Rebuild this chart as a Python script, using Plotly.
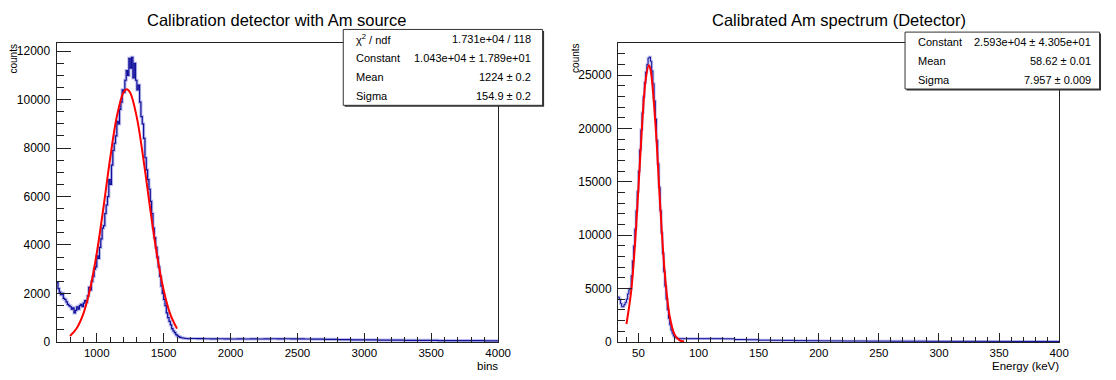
import numpy as np
import plotly.graph_objects as go

W, H = 1116, 380

# ---------------- data: left panel (raw channels) ----------------
left_title = "Calibration detector with Am source"
left_xlabel = "bins"
left_ylabel = "counts"
# bins 700..1700, width 10
left_fine_start, left_fine_width = 700, 10
left_fine_counts = [
    2450, 2200, 2050, 1950, 2000, 1800, 1750, 1650, 1550, 1500,
    1450, 1350, 1400, 1200, 1300, 1450, 1350, 1500, 1550, 1450,
    1600, 1700, 1650, 1900, 2250, 2150, 2500, 2700, 3000, 3100,
    3550, 3450, 3900, 4250, 4700, 4800, 5300, 5650, 6000, 6700,
    6500, 7300, 7900, 8200, 8500, 9100, 9000, 9600, 9900, 10400,
    10300, 10800, 11200, 11000, 11700, 11300, 11750, 10900, 11500, 10800,
    10400, 10600, 9900, 9300, 9000, 8400, 7600, 7100, 6700, 6300,
    5800, 5300, 4700, 4300, 3900, 3500, 3100, 2700, 2300, 2000,
    1750, 1500, 1200, 1000, 850, 700, 550, 450, 380, 300,
    250, 220, 190, 170, 160, 150, 140, 140, 130, 130,
]
# bins 1700..4000, width 50
left_tail_start, left_tail_width = 1700, 50
left_tail_counts = [
    140, 135, 130, 125, 130, 125, 120, 125, 120, 125,
    120, 125, 130, 125, 130, 125, 125, 120, 115, 110,
    105, 100, 95, 90, 85, 85, 80, 80, 75, 75,
    70, 70, 65, 65, 60, 60, 60, 55, 55, 55,
    50, 50, 50, 50, 45, 45,
]
left_fit_x = [800, 850, 900, 950, 1000, 1050, 1100, 1150, 1200, 1224, 1250,
              1300, 1350, 1400, 1450, 1500, 1550, 1600]
left_fit_y = [246, 566, 1169, 2181, 3665, 5550, 7571, 9306, 10306, 10430, 10284,
              9247, 7493, 5469, 3597, 2133, 1139, 548]
left_stats_labels = ["χ<sup>2</sup> / ndf", "Constant", "Mean", "Sigma"]
left_stats_values = ["1.731e+04 / 118", "1.043e+04 ± 1.789e+01", "1224 ± 0.2", "154.9 ± 0.2"]

# ---------------- data: right panel (calibrated) ----------------
right_title = "Calibrated Am spectrum (Detector)"
right_xlabel = "Energy (keV)"
right_ylabel = "counts"
right_fine_start, right_fine_width = 33, 1
right_fine_counts = [
    4200, 4000, 3600, 3300, 3300, 3500, 3700, 4000, 4500, 4900,
    5000, 6200, 7600, 9000, 10600, 12300, 14100, 16000, 18000, 19900,
    21500, 23000, 24300, 25300, 26000, 26600, 26700, 26300, 25400, 24200,
    22600, 20900, 18900, 16700, 14500, 12300, 10200, 8300, 6600, 5200,
    4000, 3000, 2200, 1600, 1100, 800, 550, 420, 370, 340,
    320, 310, 300, 300, 300, 300, 300,
]
right_tail_start, right_tail_width = 90, 10
right_tail_counts = [
    300, 300, 300, 290, 220, 200, 160, 150, 140, 120,
    110, 100, 90, 80, 80, 70, 70, 60, 60, 60,
    55, 55, 50, 50, 50, 45, 45, 40, 40, 40, 40,
]
right_fit_x = [40, 44, 48, 52, 56, 58.62, 60, 64, 68, 72, 76, 80, 84, 88]
right_fit_y = [1678, 4795, 10637, 18346, 24561, 25930, 25543, 20633, 12944, 6306,
               2385, 701, 160, 28]
right_stats_labels = ["Constant", "Mean", "Sigma"]
right_stats_values = ["2.593e+04 ± 4.305e+01", "58.62 ± 0.01", "7.957 ± 0.009"]

# ---------------- helpers ----------------
def step_xy(start1, w1, c1, start2, w2, c2):
    edges = list(start1 + w1 * np.arange(len(c1))) + list(start2 + w2 * np.arange(len(c2)))
    edges.append(start2 + w2 * len(c2))
    vals = list(c1) + list(c2)
    vals.append(vals[-1])
    return edges, vals

def px(x):
    return x / W

def py(y):
    return 1 - y / H

FONT = "Liberation Sans, Arial, Helvetica, sans-serif"
HCOL = "#10109a"
HHALO = "rgba(110,110,215,0.45)"
FCOL = "#ff0000"

fig = go.Figure()

lx, ly = step_xy(left_fine_start, left_fine_width, left_fine_counts,
                 left_tail_start, left_tail_width, left_tail_counts)
fig.add_trace(go.Scatter(x=lx, y=ly, mode="lines", line=dict(color=HHALO, width=3.2, shape="hv"),
                         xaxis="x", yaxis="y", showlegend=False, hoverinfo="skip"))
fig.add_trace(go.Scatter(x=lx, y=ly, mode="lines", line=dict(color=HCOL, width=1.2, shape="hv"),
                         xaxis="x", yaxis="y", showlegend=False))
fig.add_trace(go.Scatter(x=left_fit_x, y=left_fit_y, mode="lines",
                         line=dict(color=FCOL, width=2, shape="spline", smoothing=1.0),
                         xaxis="x", yaxis="y", showlegend=False))

rx, ry = step_xy(right_fine_start, right_fine_width, right_fine_counts,
                 right_tail_start, right_tail_width, right_tail_counts)
fig.add_trace(go.Scatter(x=rx, y=ry, mode="lines", line=dict(color=HHALO, width=2.8, shape="hv"),
                         xaxis="x2", yaxis="y2", showlegend=False, hoverinfo="skip"))
fig.add_trace(go.Scatter(x=rx, y=ry, mode="lines", line=dict(color=HCOL, width=1.0, shape="hv"),
                         xaxis="x2", yaxis="y2", showlegend=False))
fig.add_trace(go.Scatter(x=right_fit_x, y=right_fit_y, mode="lines",
                         line=dict(color=FCOL, width=2, shape="spline", smoothing=1.0),
                         xaxis="x2", yaxis="y2", showlegend=False))

# frame geometry (pixels)
L_X0, L_X1 = 57.3, 504.0
R_X0, R_X1 = 625.3, 1071.7
Y_TOP, Y_BOT = 44.0, 348.3

def xaxis_cfg(x0, x1, rng, dtick, minor_dtick):
    return dict(domain=[px(x0), px(x1)], range=rng, showgrid=False, zeroline=False,
                showline=True, mirror=True, linecolor="#222", linewidth=1,
                ticks="inside", ticklen=9, tickwidth=1, tickcolor="#222",
                dtick=dtick, tick0=0, tickformat="d",
                minor=dict(ticks="inside", ticklen=4.5, dtick=minor_dtick, tick0=0,
                           tickcolor="#222", showgrid=False),
                tickfont=dict(family=FONT, size=11.5, color="black"), ticklabelstandoff=0)

def yaxis_cfg(rng, dtick, minor_dtick, anchor):
    return dict(domain=[py(Y_BOT), py(Y_TOP)], range=rng, showgrid=False, zeroline=False,
                showline=True, mirror=True, linecolor="#222", linewidth=1,
                ticks="inside", ticklen=14, tickwidth=1, tickcolor="#222",
                dtick=dtick, tick0=0, tickformat="d", anchor=anchor,
                minor=dict(ticks="inside", ticklen=7, dtick=minor_dtick, tick0=0,
                           tickcolor="#222", showgrid=False),
                tickfont=dict(family=FONT, size=12, color="black"), ticklabelstandoff=3)

fig.update_layout(
    width=W, height=H, margin=dict(l=0, r=0, t=0, b=0),
    paper_bgcolor="white", plot_bgcolor="white",
    xaxis=dict(**xaxis_cfg(L_X0, L_X1, [700, 4000], 500, 100), anchor="y"),
    yaxis=yaxis_cfg([0, 12330], 2000, 500, "x"),
    xaxis2=dict(**xaxis_cfg(R_X0, R_X1, [33, 400], 50, 10), anchor="y2"),
    yaxis2=yaxis_cfg([0, 28000], 5000, 1000, "x2"),
    font=dict(family=FONT, color="black"),
)

shapes = []
annotations = []

# titles
for text, cx in [(left_title, (L_X0 + L_X1) / 2), (right_title, (R_X0 + R_X1) / 2)]:
    annotations.append(dict(text=text, x=px(cx), y=py(20.5), xref="paper", yref="paper",
                            xanchor="center", yanchor="middle", showarrow=False,
                            font=dict(family=FONT, size=16.5, color="black")))
# axis titles
for text, xr in [(left_xlabel, L_X1), (right_xlabel, R_X1)]:
    annotations.append(dict(text=text, x=px(xr + 1), y=py(380), xref="paper", yref="paper",
                            xanchor="right", yanchor="bottom", showarrow=False, borderpad=0,
                            font=dict(family=FONT, size=11.5, color="black")))
for text, xc in [(left_ylabel, 14), (right_ylabel, 582)]:
    annotations.append(dict(text=text, x=px(xc), y=py(44), xref="paper", yref="paper",
                            xanchor="center", yanchor="top", textangle=-90, showarrow=False,
                            borderpad=0,
                            font=dict(family=FONT, size=10, color="black")))

# stats boxes
def stats_box(x0, x1, y0, y1, labels, values, lab_x, val_x):
    shapes.append(dict(type="rect", xref="paper", yref="paper",
                       x0=px(x0 + 1.5), x1=px(x1 + 1.5), y0=py(y1 + 1.5), y1=py(y0 + 1.5),
                       line=dict(width=0), fillcolor="#333"))
    shapes.append(dict(type="rect", xref="paper", yref="paper",
                       x0=px(x0), x1=px(x1), y0=py(y1), y1=py(y0),
                       line=dict(color="#333", width=1), fillcolor="white"))
    n = len(labels)
    rh = (y1 - y0) / n
    for i, (lab, val) in enumerate(zip(labels, values)):
        yc = y0 + rh * (i + 0.5)
        annotations.append(dict(text=lab, x=px(lab_x), y=py(yc), xref="paper", yref="paper",
                                xanchor="left", yanchor="middle", showarrow=False,
                                font=dict(family=FONT, size=11, color="black")))
        annotations.append(dict(text=val, x=px(val_x), y=py(yc), xref="paper", yref="paper",
                                xanchor="right", yanchor="middle", showarrow=False,
                                font=dict(family=FONT, size=11, color="black")))

stats_box(347.3, 549.0, 30.0, 107.3, left_stats_labels, left_stats_values, 358.3, 539.5)
stats_box(915.7, 1112.5, 32.7, 90.7, right_stats_labels, right_stats_values, 926.7, 1106.0)

fig.update_layout(shapes=shapes, annotations=annotations)
fig.write_html("out.html")
